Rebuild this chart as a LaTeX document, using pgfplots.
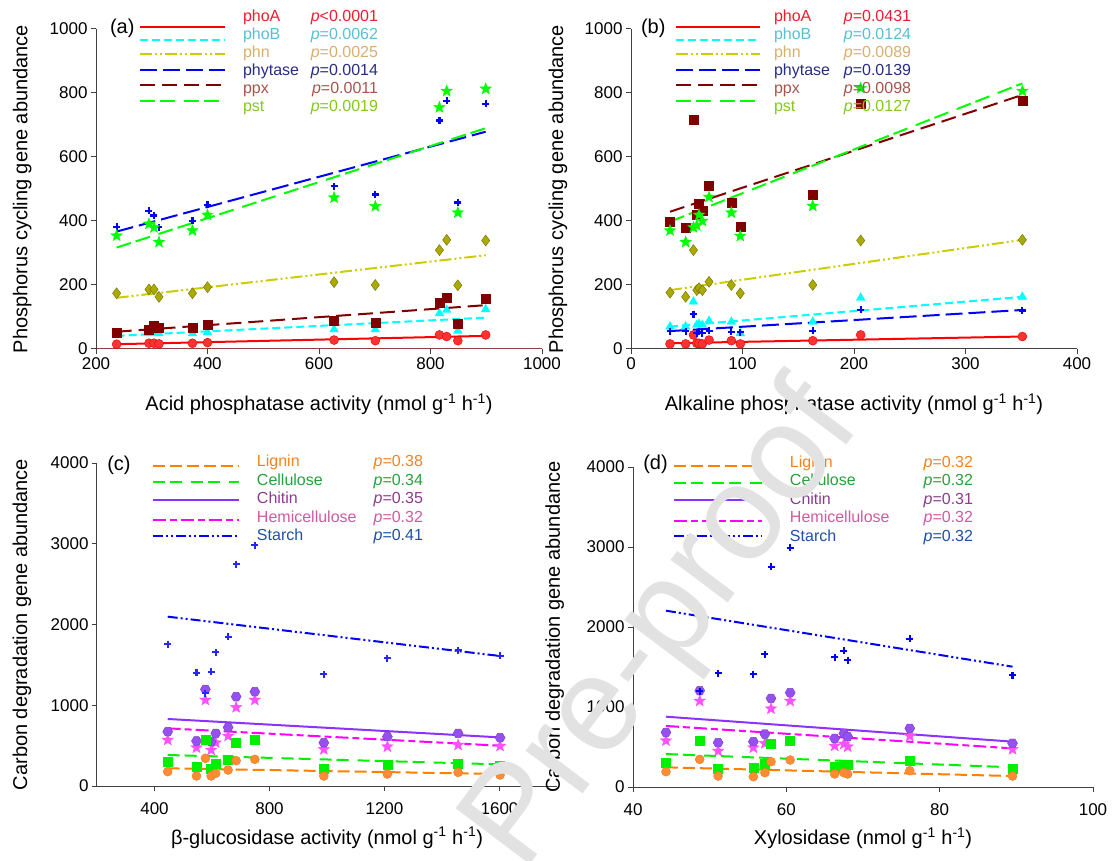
\documentclass[border=0pt]{standalone}
\usepackage{fontspec}
\setmainfont{Liberation Sans}
\usepackage{pgfplots}
\pgfplotsset{compat=1.18}

% line colours
\definecolor{cphoA}{RGB}{255,0,0}
\definecolor{cphoB}{RGB}{0,255,255}
\definecolor{cphn}{RGB}{204,204,0}
\definecolor{cphy}{RGB}{0,0,255}
\definecolor{cppx}{RGB}{128,0,0}
\definecolor{cpst}{RGB}{0,255,0}
\definecolor{clig}{RGB}{255,128,0}
\definecolor{ccel}{RGB}{0,240,0}
\definecolor{cchi}{RGB}{140,50,255}
\definecolor{chem}{RGB}{255,0,255}
\definecolor{csta}{RGB}{0,0,255}
% marker colours
\definecolor{mphoA}{RGB}{255,50,50}
\definecolor{mphn}{RGB}{170,170,0}
\definecolor{mphnd}{RGB}{110,110,0}
\definecolor{mlig}{RGB}{255,140,50}
\definecolor{mchi}{RGB}{150,80,240}
\definecolor{mhem}{RGB}{255,80,255}
% legend text colours
\definecolor{tphoA}{RGB}{235,30,45}
\definecolor{tphoB}{RGB}{90,190,210}
\definecolor{tphn}{RGB}{215,175,110}
\definecolor{tphy}{RGB}{40,45,130}
\definecolor{tppx}{RGB}{165,85,75}
\definecolor{tpst}{RGB}{130,200,30}
\definecolor{tlig}{RGB}{245,130,30}
\definecolor{tcel}{RGB}{40,160,60}
\definecolor{tchi}{RGB}{140,60,140}
\definecolor{them}{RGB}{210,90,160}
\definecolor{tsta}{RGB}{30,80,170}
\definecolor{wm}{RGB}{226,226,226}

\newcommand\ticksize{\fontsize{17}{20}\selectfont}
\newcommand\labsize{\fontsize{20}{24}\selectfont}
\newcommand\legsize{\fontsize{16}{18}\selectfont}

\pgfdeclareplotmark{fstar}{%
  \pgfpathmoveto{\pgfpointpolar{90}{\pgfplotmarksize}}%
  \pgfpathlineto{\pgfpointpolar{126}{0.42\pgfplotmarksize}}%
  \pgfpathlineto{\pgfpointpolar{162}{\pgfplotmarksize}}%
  \pgfpathlineto{\pgfpointpolar{198}{0.42\pgfplotmarksize}}%
  \pgfpathlineto{\pgfpointpolar{234}{\pgfplotmarksize}}%
  \pgfpathlineto{\pgfpointpolar{270}{0.42\pgfplotmarksize}}%
  \pgfpathlineto{\pgfpointpolar{306}{\pgfplotmarksize}}%
  \pgfpathlineto{\pgfpointpolar{342}{0.42\pgfplotmarksize}}%
  \pgfpathlineto{\pgfpointpolar{18}{\pgfplotmarksize}}%
  \pgfpathlineto{\pgfpointpolar{54}{0.42\pgfplotmarksize}}%
  \pgfpathclose\pgfusepathqfillstroke}
\pgfdeclareplotmark{hexa}{%
  \pgfpathmoveto{\pgfpointpolar{0}{\pgfplotmarksize}}%
  \pgfpathlineto{\pgfpointpolar{60}{\pgfplotmarksize}}%
  \pgfpathlineto{\pgfpointpolar{120}{\pgfplotmarksize}}%
  \pgfpathlineto{\pgfpointpolar{180}{\pgfplotmarksize}}%
  \pgfpathlineto{\pgfpointpolar{240}{\pgfplotmarksize}}%
  \pgfpathlineto{\pgfpointpolar{300}{\pgfplotmarksize}}%
  \pgfpathclose\pgfusepathqfillstroke}

\pgfplotsset{
  panel/.style={scale only axis, clip=false,
    axis lines=left, axis line style={-, line width=1pt, black!75},
    tick align=outside, major tick length=5pt, tick style={line width=1pt, black!75},
    tick label style={font=\ticksize},
    label style={font=\labsize},
    /pgf/number format/assume math mode=true, /pgf/number format/1000 sep={},
    legend style={draw=none, fill=none, anchor=north west, inner sep=0pt, outer sep=0pt,
      row sep=2pt, column sep=0pt, font=\legsize,
      nodes={inner sep=0pt, text height=12pt, text depth=4pt}},
    legend cell align=left},
  % legend sample: length, length+gap, vertical offset
  lg/.style n args={3}{legend image code/.code={%
      \path[draw=none, fill=none] (0pt,0pt) -- (#2,0pt);
      \draw[##1,overlay] (0pt,#3) -- (#1,#3);}},
  fitline/.style={line width=2pt},
  pmark/.style={only marks, forget plot},
}

\begin{document}
\begin{tikzpicture}
\useasboundingbox (0,0) rectangle (1115pt,860pt);

% ---------------- (a) ----------------
\begin{axis}[panel, at={(96pt,511pt)}, anchor=south west, width=446pt, height=320pt,
  xmin=200, xmax=1000, ymin=0, ymax=1000,
  xtick={200,400,...,1000}, ytick={0,200,...,1000},
  axis x line*=bottom, x axis line style={color={rgb,255:red,150;green,60;blue,60}},
  xlabel={Acid phosphatase activity (nmol g\textsuperscript{-1} h\textsuperscript{-1})},
  ylabel={Phosphorus cycling gene abundance},
  xlabel style={at={(axis description cs:0.5,-0.172)}, anchor=center},
  ylabel style={at={(axis description cs:-0.1655,0.5)}, anchor=center},
  legend style={at={(axis description cs:0.0987,1.0616)}}]
\addplot[pmark, mark=*, mark size=4.5pt, draw=red!90!black, fill=mphoA] coordinates {
  (237,15) (295,18) (304,18) (313,16) (373,18) (400,20) (627,28) (701,26) (816,44) (829,39) (849,26) (899,44)};
\addplot[pmark, mark=triangle*, mark size=5pt, draw=cphoB, fill=cphoB] coordinates {
  (237,46) (295,49) (304,51) (313,49) (373,49) (400,52) (627,61) (701,61) (816,111) (829,122) (849,57) (899,124)};
\addplot[pmark, mark=diamond*, mark size=5.5pt, draw=mphnd, fill=mphn] coordinates {
  (237,174) (295,186) (304,186) (313,163) (373,174) (400,193) (627,209) (701,200) (816,309) (829,341) (849,199) (899,339)};
\addplot[pmark, mark=+, mark size=3.5pt, mark options={line width=2.2pt}, cphy] coordinates {
  (237,382) (295,432) (304,417) (313,380) (373,400) (400,451) (627,509) (701,483) (816,714) (829,776) (849,458) (899,766)};
\addplot[pmark, mark=square*, mark size=4.5pt, draw=cppx, fill=cppx] coordinates {
  (237,52) (295,59) (304,72) (313,65) (373,65) (400,75) (627,88) (701,82) (816,145) (829,160) (849,80) (899,156)};
\addplot[pmark, mark=fstar, mark size=6pt, draw=cpst, fill=cpst] coordinates {
  (237,354) (295,391) (304,380) (313,334) (373,370) (400,419) (627,473) (701,446) (816,755) (829,806) (849,426) (899,813)};
\addplot[fitline, cphoA, lg={85pt}{103pt}{-10pt}] coordinates {(237,15) (899,41)};
\addlegendentry{\makebox[135pt][l]{\color{tphoA}phoA\hfill\textit{p}<0.0001}}
\addplot[fitline, cphoB, dash pattern=on 8pt off 4pt, lg={85pt}{103pt}{-4.6pt}] coordinates {(237,41) (899,98)};
\addlegendentry{\makebox[135pt][l]{\color{tphoB}phoB\hfill\textit{p}=0.0062}}
\addplot[fitline, cphn, dash pattern=on 12pt off 3pt on 2pt off 3pt on 2pt off 3pt, lg={85pt}{103pt}{-0.6pt}] coordinates {(237,160) (899,293)};
\addlegendentry{\makebox[135pt][l]{\color{tphn}phn\hfill\textit{p}=0.0025}}
\addplot[fitline, cphy, dash pattern=on 17pt off 6pt, lg={85pt}{103pt}{1.6pt}] coordinates {(237,367) (899,679)};
\addlegendentry{\makebox[135pt][l]{\color{tphy}phytase\hfill\textit{p}=0.0014}}
\addplot[fitline, cppx, dash pattern=on 15pt off 7pt, lg={85pt}{103pt}{4pt}] coordinates {(237,54) (899,137)};
\addlegendentry{\makebox[135pt][l]{\color{tppx}ppx\hfill\textit{p}=0.0011}}
\addplot[fitline, cpst, dash pattern=on 15pt off 5pt on 15pt off 9pt, lg={85pt}{103pt}{6pt}] coordinates {(237,317) (899,690)};
\addlegendentry{\makebox[135pt][l]{\color{tpst}pst\hfill\textit{p}=0.0019}}
\node[anchor=west, font=\labsize, inner sep=0pt] at (rel axis cs:0.031,1.003) {(a)};
\end{axis}

% ---------------- (b) ----------------
\begin{axis}[panel, at={(631pt,511pt)}, anchor=south west, width=446pt, height=320pt,
  xmin=0, xmax=400, ymin=0, ymax=1000,
  xtick={0,100,...,400}, ytick={0,200,...,1000},
  xlabel={Alkaline phosphatase activity (nmol g\textsuperscript{-1} h\textsuperscript{-1})},
  ylabel={Phosphorus cycling gene abundance},
  xlabel style={at={(axis description cs:0.5,-0.172)}, anchor=center},
  ylabel style={at={(axis description cs:-0.1637,0.5)}, anchor=center},
  legend style={at={(axis description cs:0.101,1.0616)}}]
\addplot[pmark, mark=*, mark size=4.5pt, draw=red!90!black, fill=mphoA] coordinates {
  (35,16) (49,16) (56,44) (59,18) (61,18) (64,16) (70,28) (90,26) (98,16) (163,26) (206,44) (351,39)};
\addplot[pmark, mark=triangle*, mark size=5pt, draw=cphoB, fill=cphoB] coordinates {
  (35,70) (49,70) (56,148) (59,75) (61,78) (64,75) (70,88) (90,85) (98,49) (163,85) (206,160) (351,163)};
\addplot[pmark, mark=diamond*, mark size=5.5pt, draw=mphnd, fill=mphn] coordinates {
  (35,176) (49,163) (56,309) (59,184) (61,190) (64,184) (70,210) (90,200) (98,174) (163,200) (206,339) (351,341)};
\addplot[pmark, mark=+, mark size=3.5pt, mark options={line width=2.2pt}, cphy] coordinates {
  (35,56) (49,56) (56,109) (59,49) (61,54) (64,49) (70,57) (90,54) (98,52) (163,57) (206,122) (351,120)};
\addplot[pmark, mark=square*, mark size=4.5pt, draw=cppx, fill=cppx] coordinates {
  (35,398) (49,380) (56,716) (59,419) (61,453) (64,432) (70,509) (90,458) (98,382) (163,483) (206,766) (351,776)};
\addplot[pmark, mark=fstar, mark size=6pt, draw=cpst, fill=cpst] coordinates {
  (35,370) (49,334) (56,380) (59,386) (61,419) (64,400) (70,475) (90,426) (98,353) (163,447) (206,815) (351,806)};
\addplot[fitline, cphoA, lg={84pt}{98pt}{-10pt}] coordinates {(35,18) (351,39)};
\addlegendentry{\makebox[137pt][l]{\color{tphoA}phoA\hfill\textit{p}=0.0431}}
\addplot[fitline, cphoB, dash pattern=on 8pt off 4pt, lg={84pt}{98pt}{-4.6pt}] coordinates {(35,70) (351,163)};
\addlegendentry{\makebox[137pt][l]{\color{tphoB}phoB\hfill\textit{p}=0.0124}}
\addplot[fitline, cphn, dash pattern=on 12pt off 3pt on 2pt off 3pt on 2pt off 3pt, lg={84pt}{98pt}{-0.6pt}] coordinates {(35,184) (351,341)};
\addlegendentry{\makebox[137pt][l]{\color{tphn}phn\hfill\textit{p}=0.0089}}
\addplot[fitline, cphy, dash pattern=on 17pt off 6pt, lg={84pt}{98pt}{1.6pt}] coordinates {(35,56) (351,122)};
\addlegendentry{\makebox[137pt][l]{\color{tphy}phytase\hfill\textit{p}=0.0139}}
\addplot[fitline, cppx, dash pattern=on 15pt off 7pt, lg={84pt}{98pt}{4pt}] coordinates {(35,429) (351,794)};
\addlegendentry{\makebox[137pt][l]{\color{tppx}ppx\hfill\textit{p}=0.0098}}
\addplot[fitline, cpst, dash pattern=on 15pt off 5pt on 15pt off 9pt, lg={84pt}{98pt}{6pt}] coordinates {(35,398) (351,830)};
\addlegendentry{\makebox[137pt][l]{\color{tpst}pst\hfill\textit{p}=0.0127}}
\node[anchor=west, font=\labsize, inner sep=0pt] at (rel axis cs:0.022,1.003) {(b)};
\end{axis}

% ---------------- (c) ----------------
\begin{axis}[panel, at={(97pt,74pt)}, anchor=south west, width=460pt, height=323pt,
  xmin=200, xmax=1800, ymin=0, ymax=4000,
  xtick={400,800,1200,1600}, ytick={0,1000,...,4000},
  xticklabel style={yshift=-8pt},
  xlabel={β-glucosidase activity (nmol g\textsuperscript{-1} h\textsuperscript{-1})},
  ylabel={Carbon degradation gene abundance},
  xlabel style={at={(axis description cs:0.5,-0.161)}, anchor=center},
  ylabel style={at={(axis description cs:-0.163,0.5)}, anchor=center},
  legend style={at={(axis description cs:0.1217,1.0248)}, row sep=2.5pt}]
\addplot[pmark, mark=fstar, mark size=6pt, draw=mhem, fill=mhem] coordinates {
  (446,570) (546,475) (577,1065) (597,446) (613,536) (656,619) (684,974) (749,1065) (989,454) (1210,487) (1456,508) (1602,495)};
\addplot[pmark, mark=hexa, mark size=5pt, draw=mchi!80!black, fill=mchi] coordinates {
  (446,673) (546,557) (577,1197) (597,549) (613,652) (656,726) (684,1106) (749,1168) (989,536) (1210,611) (1456,652) (1602,598)};
\addplot[pmark, mark=square*, mark size=4.5pt, draw=ccel, fill=ccel] coordinates {
  (446,301) (546,239) (577,578) (597,219) (613,281) (656,322) (684,536) (749,578) (989,219) (1210,260) (1456,281) (1602,250)};
\addplot[pmark, mark=*, mark size=4.5pt, draw=mlig!90!black, fill=mlig] coordinates {
  (446,178) (546,124) (577,343) (597,124) (613,157) (656,198) (684,314) (749,330) (989,124) (1210,148) (1456,169) (1602,136)};
\addplot[pmark, mark=+, mark size=3.5pt, mark options={line width=2.2pt}, csta!85!white] coordinates {
  (446,1758) (546,1403) (577,1150) (597,1416) (613,1655) (656,1849) (684,2745) (749,2984) (989,1387) (1210,1581) (1456,1684) (1602,1610)};
\addplot[fitline, clig, dash pattern=on 12pt off 5pt, lg={86pt}{104pt}{-3pt}] coordinates {(446,219) (1602,148)};
\addlegendentry{\makebox[166pt][l]{\color{tlig}Lignin\hfill\textit{p}=0.38}}
\addplot[fitline, ccel, dash pattern=on 12pt off 5pt on 12pt off 9pt, lg={86pt}{104pt}{-1pt}] coordinates {(446,384) (1602,268)};
\addlegendentry{\makebox[166pt][l]{\color{tcel}Cellulose\hfill\textit{p}=0.34}}
\addplot[fitline, cchi, lg={86pt}{104pt}{0pt}] coordinates {(446,830) (1602,602)};
\addlegendentry{\makebox[166pt][l]{\color{tchi}Chitin\hfill\textit{p}=0.35}}
\addplot[fitline, chem, dash pattern=on 13pt off 4pt on 7pt off 4pt, lg={86pt}{104pt}{-2pt}] coordinates {(446,714) (1602,499)};
\addlegendentry{\makebox[166pt][l]{\color{them}Hemicellulose\hfill\textit{p}=0.32}}
\addplot[fitline, csta, dash pattern=on 10pt off 3pt on 2pt off 3pt on 2pt off 3pt, lg={86pt}{104pt}{1pt}] coordinates {(446,2097) (1602,1610)};
\addlegendentry{\makebox[166pt][l]{\color{tsta}Starch\hfill\textit{p}=0.41}}
\node[anchor=west, font=\labsize, inner sep=0pt] at (rel axis cs:0.022,0.994) {(c)};
\end{axis}

% ---------------- (d) ----------------
\begin{axis}[panel, at={(633pt,73pt)}, anchor=south west, width=460pt, height=320pt,
  xmin=40, xmax=100, ymin=0, ymax=4000,
  xtick={40,60,80,100}, ytick={0,1000,...,4000},
  xticklabel style={yshift=-8pt},
  xlabel={Xylosidase (nmol g\textsuperscript{-1} h\textsuperscript{-1})},
  ylabel={Carbon degradation gene abundance},
  xlabel style={at={(axis description cs:0.5,-0.16)}, anchor=center},
  ylabel style={at={(axis description cs:-0.17,0.5)}, anchor=center},
  legend style={at={(axis description cs:0.0891,1.0375)}, row sep=2.5pt}]
\addplot[pmark, mark=fstar, mark size=6pt, draw=mhem, fill=mhem] coordinates {
  (44.3,579) (48.7,1075) (51.1,450) (55.7,492) (57.2,546) (58.0,979) (60.5,1075) (66.3,513) (67.5,538) (68.0,504) (76.1,637) (89.5,471)};
\addplot[pmark, mark=hexa, mark size=5pt, draw=mchi!80!black, fill=mchi] coordinates {
  (44.3,683) (48.7,1204) (51.1,554) (55.7,567) (57.2,662) (58.0,1108) (60.5,1179) (66.3,608) (67.5,671) (68.0,629) (76.1,733) (89.5,546)};
\addplot[pmark, mark=square*, mark size=4.5pt, draw=ccel, fill=ccel] coordinates {
  (44.3,304) (48.7,579) (51.1,233) (55.7,242) (57.2,296) (58.0,546) (60.5,579) (66.3,254) (67.5,275) (68.0,275) (76.1,329) (89.5,233)};
\addplot[pmark, mark=*, mark size=4.5pt, draw=mlig!90!black, fill=mlig] coordinates {
  (44.3,192) (48.7,346) (51.1,137) (55.7,129) (57.2,179) (58.0,317) (60.5,337) (66.3,163) (67.5,179) (68.0,163) (76.1,204) (89.5,137)};
\addplot[pmark, mark=+, mark size=3.5pt, mark options={line width=2.2pt}, csta] coordinates {
  (44.3,1762) (48.7,1200) (51.1,1421) (55.7,1412) (57.2,1658) (58.0,2754) (60.5,2992) (66.3,1621) (67.5,1704) (68.0,1587) (76.1,1854) (89.5,1396)};
\addplot[fitline, clig, dash pattern=on 12pt off 5pt, lg={88pt}{116pt}{-3pt}] coordinates {(44.3,246) (89.5,137)};
\addlegendentry{\makebox[183pt][l]{\color{tlig}Lignin\hfill\textit{p}=0.32}}
\addplot[fitline, ccel, dash pattern=on 12pt off 5pt on 12pt off 9pt, lg={88pt}{116pt}{-1pt}] coordinates {(44.3,412) (89.5,246)};
\addlegendentry{\makebox[183pt][l]{\color{tcel}Cellulose\hfill\textit{p}=0.32}}
\addplot[fitline, cchi, lg={88pt}{116pt}{0pt}] coordinates {(44.3,879) (89.5,567)};
\addlegendentry{\makebox[183pt][l]{\color{tchi}Chitin\hfill\textit{p}=0.31}}
\addplot[fitline, chem, dash pattern=on 13pt off 4pt on 7pt off 4pt, lg={88pt}{116pt}{-2pt}] coordinates {(44.3,763) (89.5,483)};
\addlegendentry{\makebox[183pt][l]{\color{them}Hemicellulose\hfill\textit{p}=0.32}}
\addplot[fitline, csta, dash pattern=on 10pt off 3pt on 2pt off 3pt on 2pt off 3pt, lg={88pt}{116pt}{1pt}] coordinates {(44.3,2204) (89.5,1504)};
\addlegendentry{\makebox[183pt][l]{\color{tsta}Starch\hfill\textit{p}=0.32}}
\node[anchor=west, font=\labsize, inner sep=0pt] at (rel axis cs:0.022,1.009) {(d)};
\end{axis}

% watermark
\node[rotate=53, text=wm, font=\fontsize{135}{140}\selectfont, inner sep=0pt] at (665pt,232pt) {Pre-proof};
\end{tikzpicture}
\end{document}
